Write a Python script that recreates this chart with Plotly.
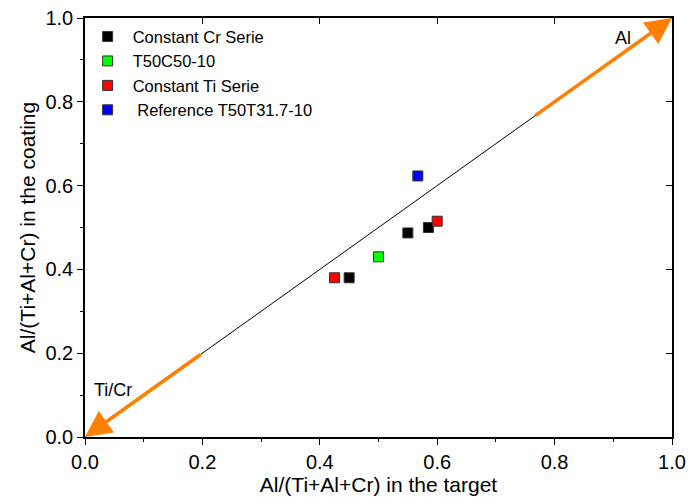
import plotly.graph_objects as go

cr_x = [0.45, 0.55, 0.585]
cr_y = [0.38, 0.487, 0.50]
t50_x = [0.50]
t50_y = [0.43]
ti_x = [0.425, 0.60]
ti_y = [0.38, 0.515]
ref_x = [0.567]
ref_y = [0.623]
diag = [0.0, 1.0]

fig = go.Figure()
fig.add_trace(go.Scatter(x=diag, y=diag, mode="lines", line=dict(color="black", width=1),
                         showlegend=False, hoverinfo="skip"))

series = [
    ("Constant Cr Serie", cr_x, cr_y, "#000000"),
    ("T50C50-10", t50_x, t50_y, "#00FF00"),
    ("Constant Ti Serie", ti_x, ti_y, "#FF0000"),
    (" Reference T50T31.7-10", ref_x, ref_y, "#0000FF"),
]
for name, xs, ys, c in series:
    fig.add_trace(go.Scatter(x=xs, y=ys, mode="markers", name=name,
                             marker=dict(symbol="square", size=10, color=c,
                                         line=dict(color="#333333", width=1))))

orange = "#FF7F00"
fig.add_annotation(x=1, y=1, ax=0.765, ay=0.765, axref="x", ayref="y", xref="x", yref="y",
                   showarrow=True, arrowhead=2, arrowsize=1.5, arrowwidth=3.5, arrowcolor=orange, text="")
fig.add_annotation(x=0, y=0, ax=0.2, ay=0.2, axref="x", ayref="y", xref="x", yref="y",
                   showarrow=True, arrowhead=2, arrowsize=1.5, arrowwidth=3.5, arrowcolor=orange, text="")
fig.add_annotation(x=0.917, y=0.952, xref="x", yref="y", text="Al", showarrow=False,
                   font=dict(size=18, color="black"))
fig.add_annotation(x=0.048, y=0.112, xref="x", yref="y", text="Ti/Cr", showarrow=False,
                   font=dict(size=18, color="black"))

axis_common = dict(range=[0, 1], dtick=0.2, tickformat=".1f", showgrid=False, zeroline=False,
                   showline=True, linecolor="black", linewidth=1.5, ticks="outside", ticklen=6,
                   tickwidth=1, tickcolor="black", tickfont=dict(size=20, color="black"),
                   automargin=False,
                   minor=dict(ticks="outside", ticklen=3, dtick=0.1, tickcolor="black"))

fig.update_layout(
    width=693, height=497,
    margin=dict(l=85, r=21, t=18, b=60),
    paper_bgcolor="white", plot_bgcolor="white",
    font=dict(family="Liberation Sans, Arial, sans-serif", color="black"),
    xaxis=dict(**axis_common, title=dict(text="Al/(Ti+Al+Cr) in the target", font=dict(size=21), standoff=0)),
    yaxis=dict(**axis_common, title=dict(text="Al/(Ti+Al+Cr) in the coating", font=dict(size=21), standoff=4)),
    xaxis2=dict(range=[0, 1], overlaying="x", side="top", showgrid=False, zeroline=False,
                showline=True, linecolor="black", linewidth=1.5, ticks="inside", ticklen=6,
                dtick=0.2, showticklabels=False, tickcolor="black", automargin=False),
    yaxis2=dict(range=[0, 1], overlaying="y", side="right", showgrid=False, zeroline=False,
                showline=True, linecolor="black", linewidth=1.5, ticks="inside", ticklen=6,
                dtick=0.2, showticklabels=False, tickcolor="black", automargin=False),
    legend=dict(x=-0.004, y=0.997, xanchor="left", yanchor="top", bgcolor="rgba(0,0,0,0)",
                font=dict(size=16.5), itemwidth=40, tracegroupgap=0),
    showlegend=True,
)
fig.add_trace(go.Scatter(x=[None], y=[None], xaxis="x2", yaxis="y2", showlegend=False, hoverinfo="skip"))

fig.write_html("out.html")
